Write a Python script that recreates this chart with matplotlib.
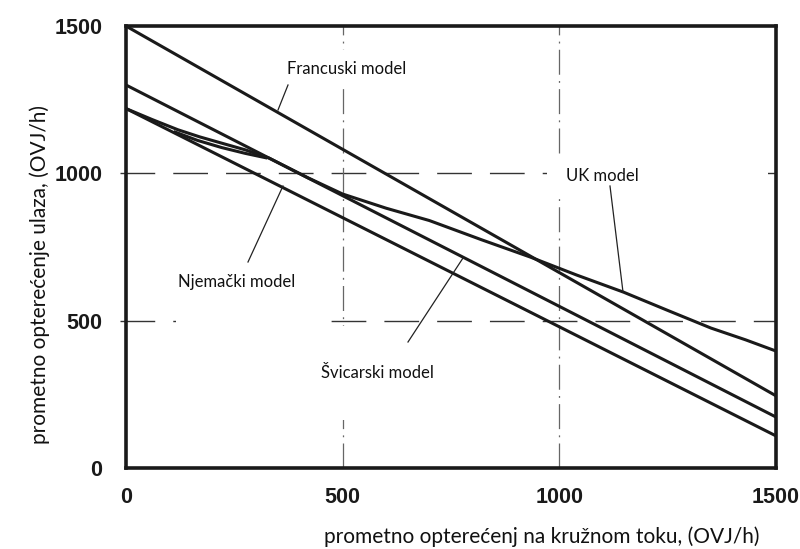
import matplotlib
matplotlib.use("Agg")
import matplotlib.pyplot as plt
from matplotlib.patches import Rectangle

# circulating flow (x) vs entry capacity (y), OVJ/h
fr_x = [0, 1500]
fr_y = [1500, 245]

ch_x = [0, 1500]
ch_y = [1300, 173]

de_x = [0, 1500]
de_y = [1220, 109]

uk_x = [0, 60, 120, 170, 220, 275, 330, 420, 500, 600, 700, 820, 933, 1040, 1148, 1250, 1350, 1430, 1500]
uk_y = [1220, 1183, 1148, 1124, 1103, 1080, 1052, 985, 930, 882, 840, 775, 716, 655, 597, 535, 475, 435, 397]

# second stroke of the UK curve (the small "lens" near the start)
uk2_x = [110, 165, 220, 275, 326]
uk2_y = [1142, 1112, 1088, 1068, 1052]

ticks = [0, 500, 1000, 1500]
tick_labels = ["0", "500", "1000", "1500"]

W, H = 800, 549
fig = plt.figure(figsize=(8, 5.49), dpi=100)
ax = fig.add_axes([0.1575, 0.1475, 0.8125, 0.805])
ax.set_xlim(0, 1500)
ax.set_ylim(0, 1500)

# grid
for yv in (500, 1000):
    ax.plot([-15, 1500], [yv, yv], color="#333333", lw=1.0, dashes=(25, 13), zorder=1, clip_on=False)
for xv in (500, 1000):
    ax.plot([xv, xv], [0, 1500], color="#666666", lw=0.9, dashes=(20, 5, 1.5, 5), zorder=1)

lw = 2.2
for xs, ys in ((fr_x, fr_y), (ch_x, ch_y), (de_x, de_y), (uk_x, uk_y), (uk2_x, uk2_y)):
    ax.plot(xs, ys, color="#1a1a1a", lw=lw, solid_capstyle="butt", solid_joinstyle="round", zorder=3)

for s in ax.spines.values():
    s.set_linewidth(2.6)
    s.set_color("#1a1a1a")

ax.set_xticks(ticks)
ax.set_yticks(ticks)
ax.set_xticklabels(tick_labels, fontfamily="Liberation Sans", fontweight="bold", fontsize=15.5)
ax.set_yticklabels(tick_labels, fontfamily="Liberation Sans", fontweight="bold", fontsize=15.5)
ax.tick_params(axis="both", length=0, colors="#1a1a1a")
ax.tick_params(axis="x", pad=14)
ax.tick_params(axis="y", pad=17)

lab = dict(fontfamily="Lato", fontsize=15, color="#111111")
fig.text(542 / W, 1 - 537 / H, "prometno opterećenj na kružnom toku, (OVJ/h)",
         ha="center", va="center", **lab)
fig.text(40 / W, 1 - 275 / H, "prometno opterećenje ulaza, (OVJ/h)",
         ha="center", va="center", rotation=90, **lab)

# white pasted text boxes that hide parts of the grid (x0, y0, x1, y1 in pixels)
boxes = [(282, 50, 412, 88), (547, 158, 768, 196), (176, 262, 325, 326), (318, 326, 440, 420)]
for x0, y0, x1, y1 in boxes:
    fig.add_artist(Rectangle((x0 / W, 1 - y1 / H), (x1 - x0) / W, (y1 - y0) / H,
                             transform=fig.transFigure, facecolor="white",
                             edgecolor="none", zorder=2))

ann = dict(fontfamily="Lato", fontsize=12, color="#111111", ha="center", va="center", zorder=4)
# labels with leader lines (positions in figure pixels)
notes = [
    ("Francuski model", (347, 69), (288, 85), (278, 110)),
    ("UK model", (602, 176), (610, 186), (623, 292)),
    ("Njemački model", (237, 282), (248, 262), (283, 186)),
    ("Švicarski model", (377, 373), (408, 342), (463, 258)),
]
for txt, pos, p0, p1 in notes:
    fig.text(pos[0] / W, 1 - pos[1] / H, txt, **ann)
    fig.add_artist(plt.Line2D([p0[0] / W, p1[0] / W], [1 - p0[1] / H, 1 - p1[1] / H],
                              color="#222222", lw=0.9, transform=fig.transFigure, zorder=4))

fig.savefig("out.png", dpi=100, facecolor="white")
